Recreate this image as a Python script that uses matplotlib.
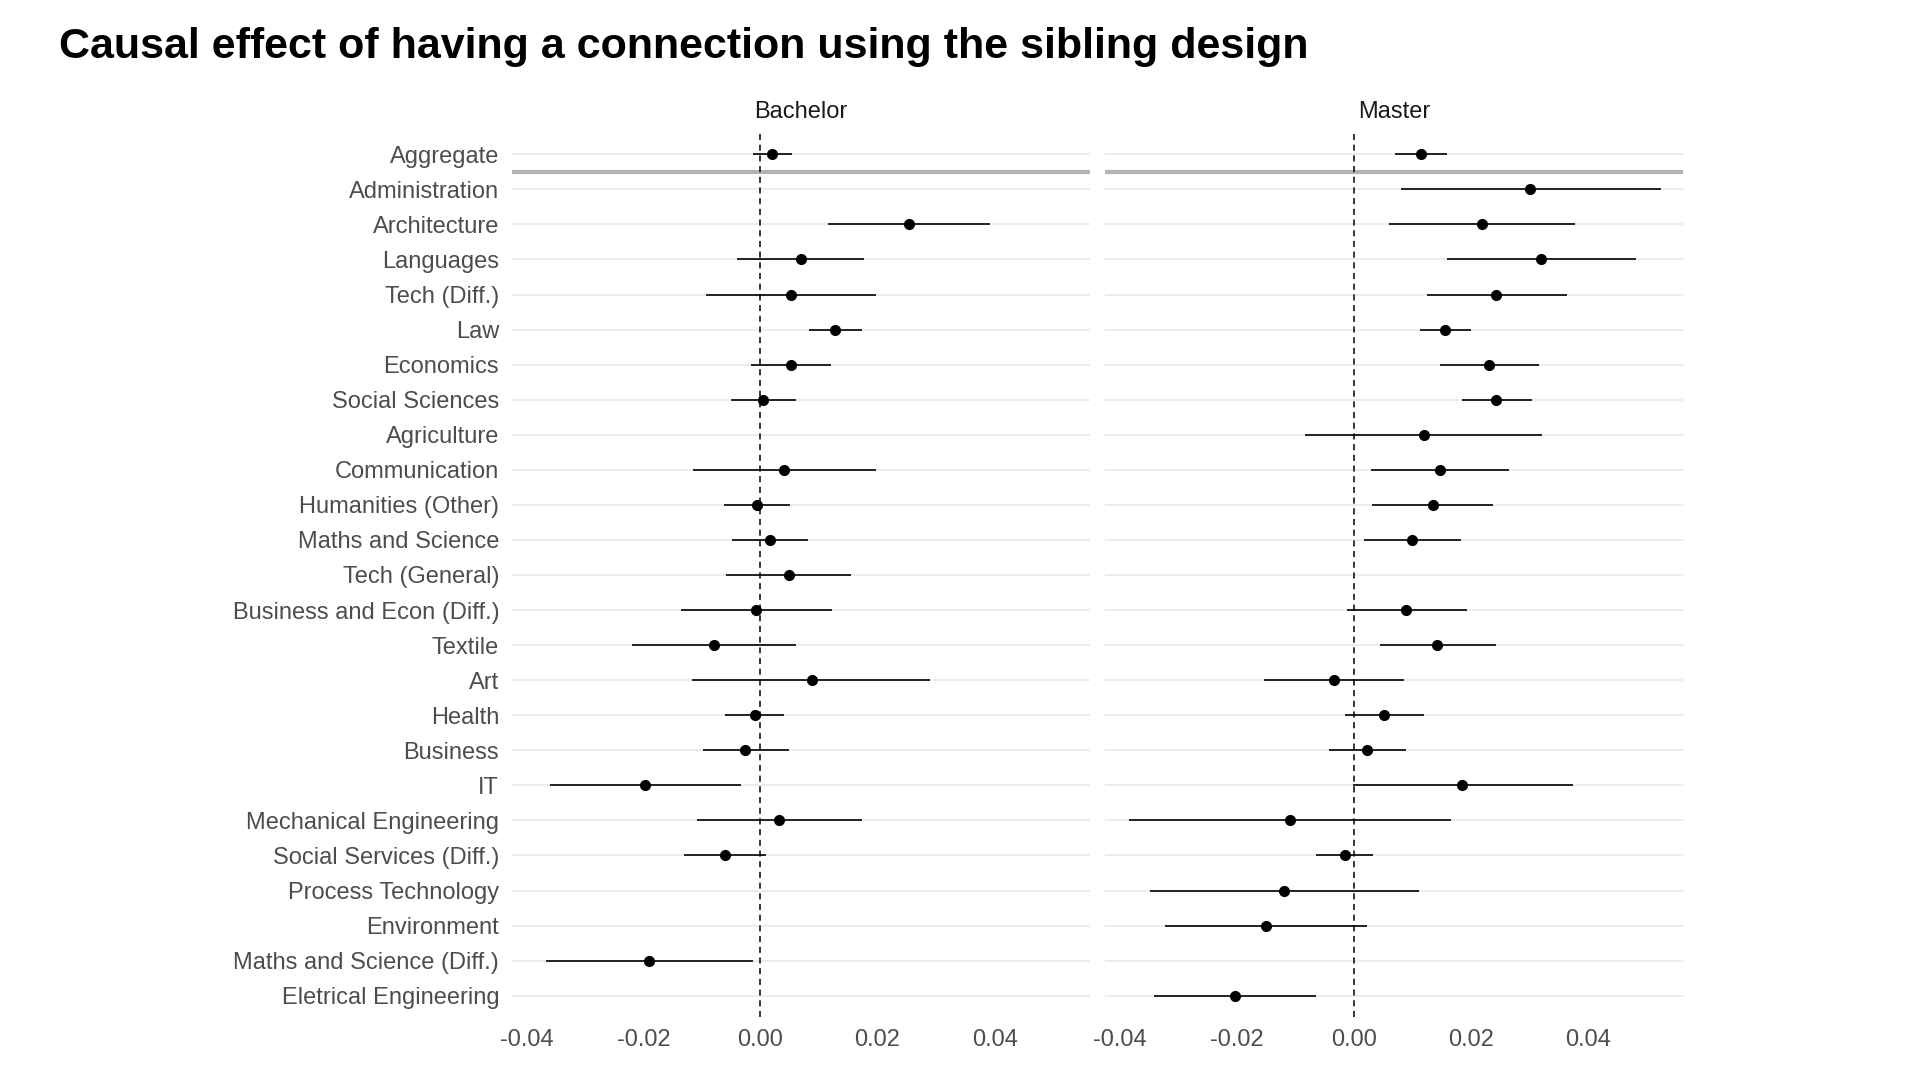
import matplotlib
matplotlib.use('Agg')
import matplotlib.pyplot as plt
import numpy as np

plt.rcParams['font.family'] = ['Liberation Sans', 'DejaVu Sans']

nan = np.nan
categories = ["Aggregate", "Administration", "Architecture", "Languages", "Tech (Diff.)",
              "Law", "Economics", "Social Sciences", "Agriculture", "Communication",
              "Humanities (Other)", "Maths and Science", "Tech (General)",
              "Business and Econ (Diff.)", "Textile", "Art", "Health", "Business", "IT",
              "Mechanical Engineering", "Social Services (Diff.)", "Process Technology",
              "Environment", "Maths and Science (Diff.)", "Eletrical Engineering"]

bach_est = [0.0020, nan, 0.0253, 0.0069, 0.0052, 0.0127, 0.0052, 0.0005, nan, 0.0040,
            -0.0006, 0.0016, 0.0048, -0.0007, -0.0079, 0.0088, -0.0010, -0.0026, -0.0197,
            0.0032, -0.0061, nan, nan, -0.0190, nan]
bach_lo = [-0.0013, nan, 0.0115, -0.0040, -0.0093, 0.0083, -0.0016, -0.0050, nan, -0.0115,
           -0.0063, -0.0049, -0.0059, -0.0136, -0.0219, -0.0117, -0.0060, -0.0099, -0.0360,
           -0.0109, -0.0131, nan, nan, -0.0367, nan]
bach_hi = [0.0054, nan, 0.0393, 0.0177, 0.0197, 0.0173, 0.0121, 0.0061, nan, 0.0197,
           0.0051, 0.0082, 0.0155, 0.0123, 0.0061, 0.0290, 0.0040, 0.0048, -0.0034,
           0.0173, 0.0010, nan, nan, -0.0012, nan]

mast_est = [0.0115, 0.0302, 0.0220, 0.0320, 0.0244, 0.0157, 0.0231, 0.0244, 0.0120, 0.0147,
            0.0135, 0.0100, nan, 0.0090, 0.0143, -0.0033, 0.0052, 0.0023, 0.0186,
            -0.0108, -0.0015, -0.0118, -0.0149, nan, -0.0203]
mast_lo = [0.0070, 0.0081, 0.0061, 0.0159, 0.0126, 0.0113, 0.0147, 0.0185, -0.0083, 0.0029,
           0.0032, 0.0017, nan, -0.0012, 0.0046, -0.0153, -0.0014, -0.0042, -0.0001,
           -0.0383, -0.0064, -0.0347, -0.0322, nan, -0.0341]
mast_hi = [0.0159, 0.0525, 0.0379, 0.0482, 0.0364, 0.0201, 0.0316, 0.0304, 0.0322, 0.0266,
           0.0239, 0.0183, nan, 0.0194, 0.0243, 0.0086, 0.0120, 0.0089, 0.0375,
           0.0167, 0.0034, 0.0112, 0.0023, nan, -0.0064]

panels = ["Bachelor", "Master"]
x_ticks = [-0.04, -0.02, 0.00, 0.02, 0.04]
x_tick_labels = ["-0.04", "-0.02", "0.00", "0.02", "0.04"]
title = "Causal effect of having a connection using the sibling design"

W, H = 1919, 1079
fig = plt.figure(figsize=(W / 100, H / 100), dpi=100)
fig.patch.set_facecolor('white')


def px_axes(x0, y0, x1, y1):
    return fig.add_axes([x0 / W, 1 - y1 / H, (x1 - x0) / W, (y1 - y0) / H])


panel_px = [(511.7, 133.3, 1090.0, 1016.7), (1104.8, 133.3, 1683.1, 1016.7)]
data = [(bach_est, bach_lo, bach_hi), (mast_est, mast_lo, mast_hi)]
n = len(categories)
ypos = np.arange(n)

for k, (box, (est, lo, hi)) in enumerate(zip(panel_px, data)):
    ax = px_axes(*box)
    ax.set_xlim(-0.0425, 0.0563)
    ax.set_ylim(n - 1 + 0.6, -0.6)
    for s in ax.spines.values():
        s.set_visible(False)
    for i in ypos:
        ax.axhline(i, color='#EBEBEB', lw=1.3, zorder=0)
    ax.axhline(0.5, color='#B3B3B3', lw=3.0, zorder=1)
    ax.axvline(0, color='black', lw=1.1, ls=(0, (4, 3)), zorder=2)
    est = np.array(est, dtype=float)
    lo = np.array(lo, dtype=float)
    hi = np.array(hi, dtype=float)
    m = ~np.isnan(est)
    ax.hlines(ypos[m], lo[m], hi[m], color='black', lw=1.2, zorder=3)
    ax.plot(est[m], ypos[m], 'o', color='black', ms=7, zorder=4)
    ax.set_xticks(x_ticks)
    ax.set_xticklabels(x_tick_labels, fontsize=17, color='#4D4D4D')
    ax.tick_params(axis='both', length=0)
    ax.tick_params(axis='x', pad=9)
    ax.set_yticks(ypos)
    if k == 0:
        ax.set_yticklabels(categories, fontsize=17, color='#4D4D4D')
        ax.tick_params(axis='y', pad=9)
    else:
        ax.set_yticklabels([])
    cx = (box[0] + box[2]) / 2
    fig.text(cx / W, 1 - 112 / H, panels[k], fontsize=17, color='#1A1A1A',
             ha='center', va='center')

fig.text(59 / W, 1 - 47 / H, title, fontsize=31, fontweight='bold',
         ha='left', va='center', color='black')

fig.savefig('out.png', dpi=100, facecolor='white')
